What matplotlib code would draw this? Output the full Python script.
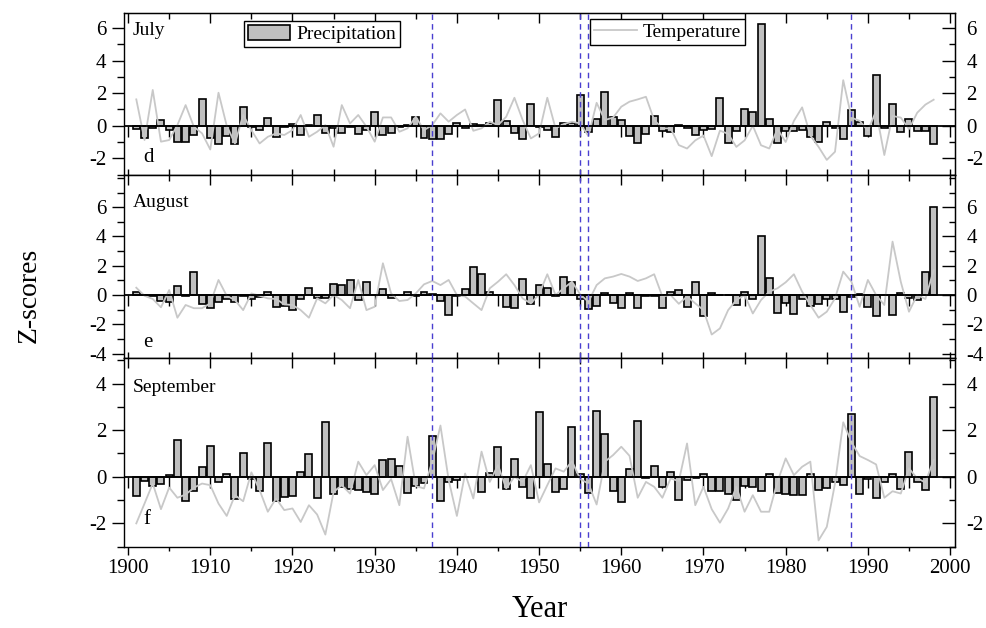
import numpy as np
import matplotlib
matplotlib.use('Agg')
import matplotlib.pyplot as plt
from matplotlib.patches import Patch
from matplotlib.lines import Line2D
from matplotlib.ticker import MultipleLocator, FixedLocator

plt.rcParams['font.family'] = ['Liberation Serif', 'DejaVu Serif']
plt.rcParams['axes.unicode_minus'] = False

years = list(range(1901, 1999))

jul_prec = [-0.2, -0.78, -0.15, 0.35, -0.27, -1.03, -1.0, -0.57, 1.62, -0.74,
            -1.15, -0.64, -1.13, 1.17, -0.1, -0.27, 0.5, -0.68, -0.06, 0.08,
            -0.57, 0.05, 0.66, -0.47, -0.15, -0.43, -0.05, -0.51, -0.27, 0.82,
            -0.57, -0.47, -0.1, 0.05, 0.55, -0.78, -0.84, -0.84, -0.53, 0.18,
            -0.16, 0.1, 0.03, 0.14, 1.58, 0.29, -0.47, -0.84, 1.31, -0.1,
            -0.27, -0.72, 0.14, 0.14, 1.9, -0.37, 0.39, 2.05, 0.55, 0.35,
            -0.64, -1.05, -0.51, 0.6, -0.33, -0.41, 0.05, -0.16, -0.57, -0.27,
            -0.2, 1.68, -1.09, -0.33, 1.0, 0.86, 6.24, 0.39, -1.09, -0.3,
            -0.31, -0.27, -0.72, -0.98, 0.22, -0.16, -0.84, 0.96, 0.25, -0.64,
            3.12, -0.12, 1.35, -0.39, 0.43, -0.33, -0.33, -1.13]
jul_temp = [1.62, -0.88, 2.2, -0.98, -0.88, 0.04, 1.27, -0.06, -0.47, -1.46,
            2.03, 0.0, -1.09, 0.66, -0.27, -1.09, -0.68, -0.47, -0.57, -0.27,
            0.66, -0.68, -0.37, 0.04, -1.29, 1.27, 0.14, 0.66, -0.06, -0.98,
            0.51, 0.51, -0.37, -0.16, 0.55, -0.27, 0.04, 0.76, 0.25, 0.66,
            1.0, -0.31, -0.16, 0.25, 0.04, 0.55, 1.72, 0.35, -0.78, -0.47,
            1.72, -0.16, 0.1, 0.25, 0.14, -0.64, 1.41, 0.35, 0.5, 1.17,
            1.48, 1.62, 1.78, 0.35, -0.16, -0.16, -1.19, -1.4, -0.9, -0.6,
            -1.87, -0.3, -0.5, -1.3, -0.9, 0.0, -1.2, -1.4, -0.2, -1.0,
            0.3, 1.13, -0.6, -1.3, -2.1, -1.6, 2.8, 0.5, 0.3, -0.3,
            0.9, -1.8, 0.6, 0.5, -0.2, 0.8, 1.3, 1.6]
aug_prec = [0.23, 0.02, -0.05, -0.4, -0.45, 0.62, -0.1, 1.55, -0.64, -0.87,
            -0.45, -0.27, -0.45, -0.05, -0.3, -0.15, 0.18, -0.8, -0.75, -1.03,
            -0.27, 0.46, -0.18, -0.18, 0.75, 0.68, 1.03, -0.34, 0.91, 0.0,
            0.41, -0.18, 0.0, 0.18, -0.05, 0.23, 0.1, -0.41, -1.37, -0.05,
            0.39, 1.9, 1.46, 0.18, 0.0, -0.8, -0.91, 1.1, -0.64, 0.68,
            0.46, -0.05, 1.26, 0.87, -0.27, -0.98, -0.75, 0.16, -0.52, -0.91,
            0.11, -0.91, -0.05, -0.05, -0.91, 0.23, 0.34, -0.84, 0.91, -1.44,
            0.14, 0.0, 0.02, -0.68, 0.18, -0.27, 4.0, 1.14, -1.26, -0.57,
            -1.33, -0.27, -0.73, -0.59, -0.27, -0.27, -1.14, -0.16, 0.09, -0.84,
            -1.42, 0.0, -1.37, 0.11, -0.23, -0.34, 1.55, 6.0]
aug_temp = [0.5, -0.05, -0.27, -0.84, 0.34, -1.55, -0.68, -0.9, -0.9, -0.57,
            1.03, -0.05, -0.34, -1.03, 0.11, -0.05, -0.23, -0.27, -0.64, -0.68,
            -1.03, -1.55, -0.23, -0.57, 0.0, -0.34, -0.9, 1.03, -1.03, -0.8,
            2.17, 0.11, -0.41, -0.34, 0.11, 0.73, 0.96, 0.68, 1.03, 0.0,
            -0.1, -0.57, -1.03, 0.46, 0.91, 1.42, 0.68, -0.23, -0.57, 0.05,
            1.42, 0.0, 0.46, 0.91, 0.05, -0.46, 0.68, 1.14, 1.26, 1.44,
            1.26, 0.96, 1.14, 1.42, -0.1, 0.0, -0.6, -0.1, -0.57, -1.03,
            -2.7, -2.28, -1.03, -0.34, 0.0, -1.26, -0.34, 0.23, 0.46, 0.87,
            1.42, 0.23, -0.68, -1.55, -1.14, -0.23, 1.6, 0.91, -0.8, 1.03,
            0.0, -0.68, 3.65, 0.91, -1.14, 0.0, -0.27, 1.7]
sep_prec = [-0.82, -0.19, -0.39, -0.33, 0.07, 1.58, -1.03, -0.62, 0.4, 1.32,
            -0.22, 0.1, -0.96, 1.03, -0.1, -0.62, 1.46, -1.05, -0.86, -0.83,
            0.22, 0.96, -0.89, 2.37, -0.72, -0.46, -0.53, -0.55, -0.65, -0.75,
            0.72, 0.77, 0.46, -0.69, -0.39, -0.26, 1.75, -1.05, -0.24, -0.14,
            -0.02, 0.0, -0.67, 0.17, 1.29, -0.53, 0.77, -0.43, -0.9, 2.78,
            0.55, -0.65, -0.53, 2.15, 0.14, -0.69, 2.83, 1.84, -0.6, -1.09,
            0.34, 2.4, -0.06, 0.46, -0.44, 0.19, -1.0, -0.14, -0.07, 0.1,
            -0.6, -0.6, -0.76, -1.0, -0.4, -0.43, -0.62, 0.1, -0.69, -0.76,
            -0.79, -0.79, 0.13, -0.55, -0.47, -0.24, -0.36, 2.7, -0.73, -0.1,
            -0.93, -0.24, 0.1, -0.53, 1.08, -0.24, -0.57, 3.44]
sep_temp = [-2.0, -1.15, -0.29, -1.39, -0.46, -0.9, -0.76, -0.47, -0.29, -0.36,
            -1.15, -1.68, -0.79, -1.05, 0.19, -0.57, -1.5, -0.93, -1.43, -1.36,
            -1.94, -1.22, -1.62, -2.48, -0.65, -0.36, -0.72, 0.65, 0.07, 0.5,
            -0.57, -0.1, -1.22, 1.72, -0.4, -0.5, 0.65, 2.2, -0.14, -1.68,
            0.14, -0.93, 1.08, -0.22, 0.5, -0.5, 0.0, -0.22, 0.5, -1.1,
            -0.36, 0.36, 0.22, 0.67, -0.1, -0.29, -1.19, 0.65, 0.93, 1.29,
            0.9, -0.9, -0.22, -0.43, -0.9, -0.07, -0.19, 1.43, -1.22, -0.43,
            -1.39, -1.97, -1.36, -0.43, -1.5, -0.79, -1.5, -1.5, -0.22, 0.79,
            0.07, 0.43, 0.65, -2.73, -2.15, -0.29, 2.34, 1.48, 0.89, 0.72,
            0.53, -0.9, -0.62, -0.72, 0.36, -0.07, -0.24, 0.72]

months = ['July', 'August', 'September']
letters = ['d', 'e', 'f']
prec_series = [jul_prec, aug_prec, sep_prec]
temp_series = [jul_temp, aug_temp, sep_temp]
break_years = [1937, 1955, 1956, 1988]
ylims = [(-3.03, 6.95), (-4.3, 8.2), (-3.0, 5.1)]
ytick_sets = [[-2, 0, 2, 4, 6], [-4, -2, 0, 2, 4, 6], [-2, 0, 2, 4]]

bar_color = '#c0c0c0'
line_color = '#c8c8c8'
dash_color = '#4a3fd0'

fig = plt.figure(figsize=(9.87, 6.28), dpi=100)
L, R = 0.1256, 0.9676
bounds = [(0.7213, 0.9798), (0.4300, 0.7213), (0.1295, 0.4300)]
month_y = [0.893, 0.852, 0.842]
letter_y = [0.111, 0.082, 0.142]

zero_tick_years = np.arange(1900, 2001, 5)

for i in range(3):
    b, t = bounds[i]
    ax = fig.add_axes([L, b, R - L, t - b])
    ax.bar(years, prec_series[i], width=0.85, color=bar_color,
           edgecolor='black', linewidth=1.2, zorder=3)
    ax.plot(years, temp_series[i], color=line_color, lw=1.3, zorder=4)
    ax.plot(zero_tick_years, np.zeros(len(zero_tick_years)), ls='none',
            marker=3, ms=8, mew=1.0, color='black', zorder=2)
    ax.axhline(0, color='black', lw=1.3, zorder=5)
    for yv in break_years:
        ax.axvline(yv, color=dash_color, ls=(0, (4, 3)), lw=1.0, zorder=6)
    ax.set_xlim(1899.5, 2000.6)
    ax.set_ylim(*ylims[i])

    # y axis: left ticks out, right ticks in with labels
    ax.yaxis.set_major_locator(FixedLocator(ytick_sets[i]))
    ax.yaxis.set_minor_locator(MultipleLocator(1))
    ax.tick_params(axis='y', which='major', direction='out', length=8.5,
                   width=1.0, labelsize=15, pad=4)
    ax.tick_params(axis='y', which='minor', direction='out', length=5,
                   width=1.0)
    sec = ax.secondary_yaxis('right')
    sec.yaxis.set_major_locator(FixedLocator(ytick_sets[i]))
    sec.yaxis.set_minor_locator(MultipleLocator(1))
    sec.tick_params(axis='y', which='major', direction='in', length=9.5,
                    width=1.0, labelsize=15, pad=8)
    sec.tick_params(axis='y', which='minor', direction='in', length=4,
                    width=1.0)

    # x axis
    ax.xaxis.set_major_locator(MultipleLocator(10))
    ax.xaxis.set_minor_locator(MultipleLocator(5))
    topx = ax.secondary_xaxis('top')
    topx.xaxis.set_major_locator(MultipleLocator(10))
    topx.xaxis.set_minor_locator(MultipleLocator(5))
    topx.tick_params(axis='x', which='major', direction='in', length=7, width=1.0,
                     labeltop=False)
    topx.tick_params(axis='x', which='minor', direction='in', length=4, width=1.0)
    if i < 2:
        ax.tick_params(axis='x', which='both', direction='in', length=4,
                       width=1.0, labelbottom=False)
    else:
        ax.tick_params(axis='x', which='major', direction='out', length=6,
                       width=1.0, labelsize=15, pad=3)
        ax.tick_params(axis='x', which='minor', direction='out', length=3,
                       width=1.0)
        ax.set_xlabel('Year', fontsize=22, labelpad=12)

    for sp in ax.spines.values():
        sp.set_linewidth(1.0)
    ax.text(0.011, month_y[i], months[i], transform=ax.transAxes,
            fontsize=14, va='center', ha='left')
    ax.text(0.023, letter_y[i], letters[i], transform=ax.transAxes,
            fontsize=15, va='center', ha='left')

    if i == 0:
        h1 = [Patch(facecolor=bar_color, edgecolor='black', linewidth=1.2)]
        leg1 = ax.legend(h1, ['Precipitation'], loc='upper left',
                         bbox_to_anchor=(0.144, 0.949), borderaxespad=0,
                         fancybox=False, edgecolor='black', framealpha=1,
                         fontsize=14, handlelength=2.2, handleheight=0.8,
                         handletextpad=0.3, borderpad=0.2)
        leg1.get_frame().set_linewidth(1.0)
        leg1.set_zorder(10)
        ax.add_artist(leg1)
        h2 = [Line2D([0], [0], color=line_color, lw=1.3)]
        leg2 = ax.legend(h2, ['Temperature'], loc='upper left',
                         bbox_to_anchor=(0.561, 0.961), borderaxespad=0,
                         fancybox=False, edgecolor='black', framealpha=1,
                         fontsize=14, handlelength=2.2, handleheight=0.8,
                         handletextpad=0.3, borderpad=0.2)
        leg2.get_frame().set_linewidth(1.0)
        leg2.set_zorder(10)

fig.text(0.030, 0.53, 'Z-scores', rotation=90, fontsize=20,
         va='center', ha='center')

fig.savefig('out.png', dpi=100)
